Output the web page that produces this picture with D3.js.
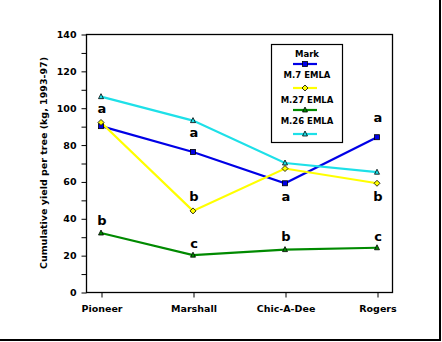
<!DOCTYPE html>
<html><head><meta charset="utf-8">
<script src="https://cdn.jsdelivr.net/npm/d3@7"></script>
<style>body{margin:0;background:#fff}svg{display:block}text{font-family:"DejaVu Sans",sans-serif;font-weight:bold}</style>
</head><body><svg id="c" width="442" height="342"></svg>
<script>
const categories = ["Pioneer", "Marshall", "Chic-A-Dee", "Rogers"];
const seriesNames = ["Mark", "M.7 EMLA", "M.27 EMLA", "M.26 EMLA"];
const markValues = [90, 76, 59, 84];
const m7Values = [92, 44, 67, 59];
const m27Values = [32, 20, 23, 24];
const m26Values = [106, 93, 70, 65];
const yTicks = [0, 20, 40, 60, 80, 100, 120, 140];
const yMinorTicks = [10, 30, 50, 70, 90, 110, 130];
const letterCats = ["Pioneer","Pioneer","Marshall","Marshall","Marshall","Chic-A-Dee","Chic-A-Dee","Rogers","Rogers","Rogers"];
const letterText = ["a","b","a","b","c","a","b","a","b","c"];
const letterAt = [97, 36.5, 84, 49.5, 24, 49.5, 27.5, 92.5, 49.5, 27.5];

const series = [
  {name: seriesNames[0], values: markValues, color: "#0000e6", marker: "square"},
  {name: seriesNames[1], values: m7Values, color: "#ffff00", marker: "diamond"},
  {name: seriesNames[2], values: m27Values, color: "#008a00", marker: "triangle"},
  {name: seriesNames[3], values: m26Values, color: "#1ee0e8", marker: "triangle"}
];

const svg = d3.select("#c");
const x = d3.scalePoint().domain(categories).range([101, 377]);
const y = d3.scaleLinear().domain([0, 140]).range([292, 34]);
const L = 86, R = 392;

// outer frame (right & bottom)
svg.append("line").attr("x1",440).attr("x2",440).attr("y1",0).attr("y2",341).attr("stroke","#000").attr("stroke-width",2);
svg.append("line").attr("x1",0).attr("x2",441).attr("y1",340).attr("y2",340).attr("stroke","#000").attr("stroke-width",2);

// plot box
svg.append("rect").attr("x",L+0.5).attr("y",y(140)+0.5).attr("width",R-L).attr("height",y(0)-y(140))
  .attr("fill","none").attr("stroke","#000").attr("stroke-width",1.3);

// y axis
const yAxis = d3.axisLeft(y).tickValues(yTicks).tickSize(5).tickPadding(5).tickFormat(d3.format("d"));
const ya = svg.append("g").attr("transform",`translate(${L+0.5},0.5)`).call(yAxis);
ya.select(".domain").remove();
ya.selectAll("text").attr("font-size",9.5).attr("font-family","DejaVu Sans").attr("font-weight","bold").attr("fill","#000");
const ym = d3.axisLeft(y).tickValues(yMinorTicks).tickSize(5).tickFormat("");
const yma = svg.append("g").attr("transform",`translate(${L+0.5},0.5)`).call(ym);
yma.select(".domain").remove();

// x axis
const xAxis = d3.axisBottom(x).tickSize(5).tickPadding(8);
const xa = svg.append("g").attr("transform",`translate(0.5,${y(0)+0.5})`).call(xAxis);
xa.select(".domain").remove();
xa.selectAll("text").attr("font-size",9.5).attr("font-family","DejaVu Sans").attr("font-weight","bold").attr("fill","#000");

// y title
svg.append("text").attr("transform","translate(47,163) rotate(-90)").attr("text-anchor","middle")
  .attr("font-size",9.5).attr("font-family","Liberation Sans").text("Cumulative yield per tree (kg, 1993-97)");

// lines
const line = d3.line().x((d,i)=>x(categories[i])).y(d=>y(d));
series.forEach(s=>{
  svg.append("path").datum(s.values).attr("d",line).attr("fill","none").attr("stroke",s.color).attr("stroke-width",2.2);
});

function marker(g, type, color){
  if(type==="square") g.append("rect").attr("x",-2.5).attr("y",-2.5).attr("width",5).attr("height",5).attr("fill",color).attr("stroke","#000").attr("stroke-width",0.8);
  else if(type==="diamond") g.append("path").attr("d","M0,-3L3,0L0,3L-3,0Z").attr("fill",color).attr("stroke","#000").attr("stroke-width",0.8);
  else g.append("path").attr("d","M0,-3L2.5,2L-2.5,2Z").attr("fill",color).attr("stroke","#000").attr("stroke-width",0.8);
}
series.forEach(s=>{
  s.values.forEach((v,i)=>{
    const g = svg.append("g").attr("transform",`translate(${x(categories[i])},${y(v)})`);
    marker(g, s.marker, s.color);
  });
});

// letters
letterText.forEach((t,i)=>{
  svg.append("text").attr("x",x(letterCats[i])+1).attr("y",y(letterAt[i])).attr("text-anchor","middle")
    .attr("font-size",13).attr("fill","#000").text(t);
});

// legend
const lg = svg.append("g");
lg.append("rect").attr("x",271.5).attr("y",44.5).attr("width",71).attr("height",98).attr("fill","#fff").attr("stroke","#000").attr("stroke-width",1.2);
const legTextY = [57, 78, 103, 124];
const legLineY = [64, 88, 110, 134];
series.forEach((s,i)=>{
  lg.append("text").attr("x",307).attr("y",legTextY[i]).attr("text-anchor","middle").attr("font-size",8.5).attr("fill","#000").text(s.name);
  lg.append("line").attr("x1",293).attr("x2",317).attr("y1",legLineY[i]).attr("y2",legLineY[i]).attr("stroke",s.color).attr("stroke-width",2.2);
  const g = lg.append("g").attr("transform",`translate(305,${legLineY[i]})`);
  marker(g, s.marker, s.color);
});
</script></body></html>
